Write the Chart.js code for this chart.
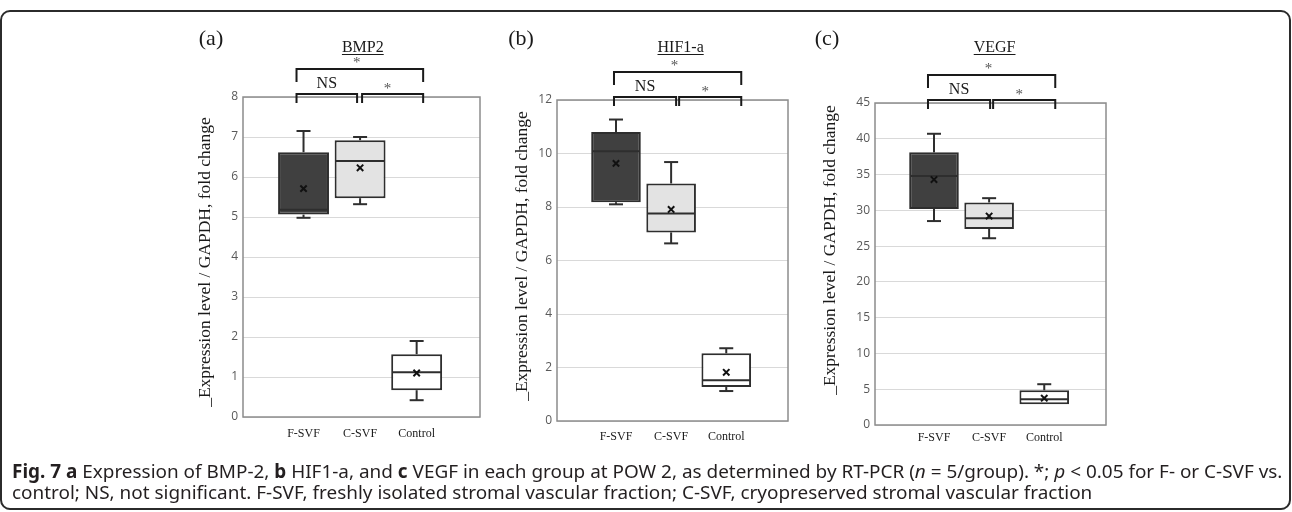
<!DOCTYPE html>
<html lang="en">
<head>
<meta charset="UTF-8">
<title>Fig. 7 - RT-PCR expression</title>
<script src="https://cdn.jsdelivr.net/npm/chart.js@4"></script>
<style>
  html, body { margin: 0; padding: 0; background: #fff; }
  body { width: 1292px; height: 512px; position: relative; overflow: hidden; }
  .frame {
    position: absolute; left: 0; top: 10px; width: 1291px; height: 500px;
    box-sizing: border-box; border: 2px solid #2b2b2b; border-radius: 10px;
  }
  canvas { position: absolute; top: 0; }
  .caption {
    position: absolute; left: 12px; top: 461px;
    font-family: "Noto Sans", sans-serif; font-size: 14px; line-height: 21px;
    color: #231f20; white-space: nowrap;
  }
  .caption b { font-weight: 700; }
</style>
</head>
<body>
<div class="frame"></div>
<canvas id="chartA" width="310" height="460" style="left:180px"></canvas>
<canvas id="chartB" width="305" height="460" style="left:495px"></canvas>
<canvas id="chartC" width="310" height="460" style="left:810px"></canvas>
<div class="caption" id="caption">
  <div id="capLine1"><b>Fig. 7 a</b> Expression of BMP-2, <b>b</b> HIF1-a, and <b>c</b> VEGF in each group at POW 2, as determined by RT-PCR (<i>n</i> = 5/group). *; <i>p</i> &lt; 0.05 for F- or C-SVF vs.</div>
  <div>control; NS, not significant. F-SVF, freshly isolated stromal vascular fraction; C-SVF, cryopreserved stromal vascular fraction</div>
</div>

<script>
// Groups (x labels)
const groups = ['F-SVF', 'C-SVF', 'Control'];
const yTitle = '_Expression level / GAPDH, fold change';

// BMP2 box statistics
const bmpMin = [4.98, 5.32, 0.42];
const bmpQ1 = [5.06, 5.47, 0.67];
const bmpMedian = [5.18, 6.40, 1.12];
const bmpQ3 = [6.62, 6.92, 1.57];
const bmpMax = [7.15, 7.00, 1.90];
const bmpMean = [5.71, 6.23, 1.10];
const bmpTicks = [0, 1, 2, 3, 4, 5, 6, 7, 8];

// HIF1-a box statistics
const hifMin = [8.10, 6.64, 1.12];
const hifQ1 = [8.18, 7.05, 1.27];
const hifMedian = [10.08, 7.76, 1.52];
const hifQ3 = [10.80, 8.88, 2.53];
const hifMax = [11.27, 9.68, 2.72];
const hifMean = [9.63, 7.91, 1.82];
const hifTicks = [0, 2, 4, 6, 8, 10, 12];

// VEGF box statistics
const vegfMin = [28.5, 26.1, 2.9];
const vegfQ1 = [30.2, 27.4, 2.9];
const vegfMedian = [34.8, 28.9, 3.6];
const vegfQ3 = [38.1, 31.1, 4.85];
const vegfMax = [40.7, 31.7, 5.7];
const vegfMean = [34.3, 29.2, 3.75];
const vegfTicks = [0, 5, 10, 15, 20, 25, 30, 35, 40, 45];

const boxFills = ['#404040', '#e3e3e3', '#ffffff'];
const ink = '#1a1a1a';

// Whiskers, medians, brackets and titles
const boxExtras = {
  id: 'boxExtras',
  beforeDatasetsDraw(chart) {
    const { ctx, chartArea: a } = chart;
    ctx.save();
    ctx.strokeStyle = '#8c8c8c';
    ctx.lineWidth = 1.5;
    ctx.strokeRect(a.left, a.top, a.right - a.left, a.bottom - a.top);
    ctx.restore();
  },
  afterDatasetDraw(chart, args) {
    if (args.meta.type !== 'bar') return;
    const o = chart.options.plugins.boxExtras;
    const { ctx } = chart;
    const y = chart.scales.y;
    const line = (x1, y1, x2, y2) => { ctx.beginPath(); ctx.moveTo(x1, y1); ctx.lineTo(x2, y2); ctx.stroke(); };
    ctx.save();
    ctx.strokeStyle = '#2e2e2e';
    ctx.lineWidth = 2;
    args.meta.data.forEach((bar, i) => {
      const half = bar.width / 2 - 1;
      const cx = bar.x;
      const cap = 7;
      const pm = y.getPixelForValue(o.median[i]);
      line(cx - half, pm, cx + half, pm);
      if (o.max[i] > o.q3[i]) {
        const pq = y.getPixelForValue(o.q3[i]), pt = y.getPixelForValue(o.max[i]);
        line(cx, pq, cx, pt);
        line(cx - cap, pt, cx + cap, pt);
      }
      if (o.min[i] < o.q1[i]) {
        const pq = y.getPixelForValue(o.q1[i]), pb = y.getPixelForValue(o.min[i]);
        line(cx, pq, cx, pb);
        line(cx - cap, pb, cx + cap, pb);
      }
    });
    ctx.restore();
  },
  afterDraw(chart) {
    const o = chart.options.plugins.boxExtras;
    const { ctx, chartArea: a } = chart;
    const x = chart.scales.x;
    const x1 = x.getPixelForValue(1), x2 = x.getPixelForValue(2), x3 = x.getPixelForValue(3);
    const T = a.top;
    const bl = x1 + o.bracket[0], bml = x2 + o.bracket[1], bmr = x2 + o.bracket[2], br = x3 + o.bracket[3];

    ctx.save();
    ctx.strokeStyle = ink;
    ctx.lineWidth = 2;
    const bracket = (l, r, yy, drop) => {
      ctx.beginPath();
      ctx.moveTo(l, yy + drop); ctx.lineTo(l, yy); ctx.lineTo(r, yy); ctx.lineTo(r, yy + drop);
      ctx.stroke();
    };
    bracket(bl, br, T - 28, 13);
    bracket(bl, bml, T - 3, 9);
    bracket(bmr, br, T - 3, 9);

    ctx.textAlign = 'center';
    ctx.textBaseline = 'alphabetic';
    ctx.fillStyle = ink;
    ctx.font = '16px "Liberation Serif"';
    ctx.fillText('NS', (bl + bml) / 2, T - 9);

    ctx.fillStyle = '#555';
    ctx.font = '15px "Liberation Serif"';
    ctx.fillText('*', (bl + br) / 2 - 3, T - 30);
    ctx.fillText('*', (bmr + br) / 2 - 5, T - 4);

    // underlined gene title
    ctx.fillStyle = ink;
    ctx.font = '16px "Liberation Serif"';
    const tx = (bl + br) / 2 + 3;
    ctx.fillText(o.title, tx, 52);
    const tw = ctx.measureText(o.title).width;
    ctx.lineWidth = 1;
    ctx.beginPath(); ctx.moveTo(tx - tw / 2, 54.5); ctx.lineTo(tx + tw / 2, 54.5); ctx.stroke();

    // panel letter
    ctx.font = '22px "Liberation Serif"';
    ctx.fillText(o.label, o.labelX, 45);

    // y axis title
    ctx.translate(o.yTitleX, o.yTitleY);
    ctx.rotate(-Math.PI / 2);
    ctx.font = '17.5px "Liberation Serif"';
    ctx.textBaseline = 'middle';
    ctx.fillText(yTitle, 0, 0);
    ctx.restore();
  }
};

function buildPanel(id, p) {
  return new Chart(document.getElementById(id), {
    type: 'bar',
    data: {
      datasets: [
        {
          type: 'bar',
          order: 2,
          data: groups.map((g, i) => ({ x: i + 1, y: [p.q1[i], p.q3[i]] })),
          backgroundColor: boxFills,
          borderColor: '#2e2e2e',
          borderWidth: 2,
          borderSkipped: false,
          barPercentage: 0.9,
          categoryPercentage: 1
        },
        {
          type: 'scatter',
          order: 1,
          data: groups.map((g, i) => ({ x: i + 1, y: p.mean[i] })),
          pointStyle: 'crossRot',
          pointRadius: 4.5,
          borderColor: '#111',
          backgroundColor: '#111',
          borderWidth: 2
        }
      ]
    },
    options: {
      responsive: false,
      animation: false,
      layout: { padding: { left: p.pad[0], right: p.pad[1], top: p.pad[2], bottom: 0 } },
      plugins: {
        legend: { display: false },
        tooltip: { enabled: false },
        boxExtras: p
      },
      scales: {
        x: {
          type: 'linear',
          min: -0.07,
          max: 4.12,
          offset: false,
          bounds: 'data',
          afterBuildTicks: (s) => { s.ticks = groups.map((g, i) => ({ value: i + 1 })); },
          afterFit: (s) => { s.height = p.xh; },
          grid: { display: false, drawTicks: false, offset: false },
          border: { display: false },
          ticks: {
            autoSkip: false, maxRotation: 0, padding: p.xPad, color: ink, includeBounds: false,
            font: { family: '"Liberation Serif"', size: 12 },
            callback: (v) => groups[v - 1]
          }
        },
        y: {
          min: 0,
          max: p.ticks[p.ticks.length - 1],
          afterBuildTicks: (s) => { s.ticks = p.ticks.map(v => ({ value: v })); },
          afterFit: (s) => { s.width = 30; },
          grid: { color: '#d9d9d9', lineWidth: 1, drawTicks: false },
          border: { display: false },
          ticks: { padding: 5, color: '#595959', font: { family: '"Open Sans"', size: 12 } }
        }
      }
    },
    plugins: [boxExtras]
  });
}

buildPanel('chartA', {
  title: 'BMP2', label: '(a)',
  min: bmpMin, q1: bmpQ1, median: bmpMedian, q3: bmpQ3, max: bmpMax, mean: bmpMean, ticks: bmpTicks,
  pad: [33, 10, 97], xh: 43, xPad: 10,
  bracket: [-7, -3, 2, 6.5],
  labelX: 31, yTitleX: 25, yTitleY: 262
});

buildPanel('chartB', {
  title: 'HIF1-a', label: '(b)',
  min: hifMin, q1: hifQ1, median: hifMedian, q3: hifQ3, max: hifMax, mean: hifMean, ticks: hifTicks,
  pad: [32, 12, 100], xh: 39, xPad: 9,
  bracket: [-2, 5, 8, 15],
  labelX: 26, yTitleX: 27, yTitleY: 256
});

buildPanel('chartC', {
  title: 'VEGF', label: '(c)',
  min: vegfMin, q1: vegfQ1, median: vegfMedian, q3: vegfQ3, max: vegfMax, mean: vegfMean, ticks: vegfTicks,
  pad: [35, 14, 103], xh: 35, xPad: 6,
  bracket: [-6, 1, 4, 11],
  labelX: 17, yTitleX: 20, yTitleY: 250
});

// fit the caption's first line to the figure width
const cap = document.getElementById('caption');
const w1 = document.getElementById('capLine1').getBoundingClientRect().width;
cap.style.fontSize = (14 * 1271 / w1).toFixed(2) + 'px';
</script>
</body>
</html>
